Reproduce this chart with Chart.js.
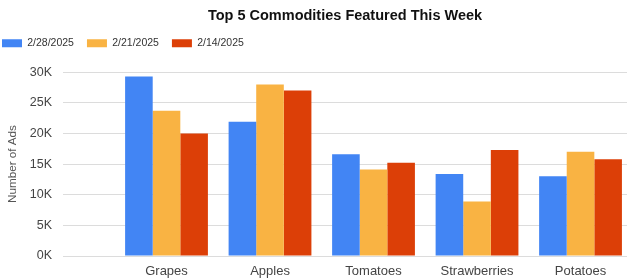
<!DOCTYPE html>
<html><head><meta charset="utf-8">
<script src="https://cdn.jsdelivr.net/npm/chart.js@4/dist/chart.umd.min.js"></script>
<style>html,body{margin:0;padding:0;background:#fff;overflow:hidden}#wrap{width:627px;height:279px;position:relative}</style>
</head><body><div id="wrap"><canvas id="c"></canvas></div>
<script>
const categories = ['Grapes', 'Apples', 'Tomatoes', 'Strawberries', 'Potatoes'];
const seriesLabels = ['2/28/2025', '2/21/2025', '2/14/2025'];
const values0228 = [29300, 21900, 16600, 13400, 13000];
const values0221 = [23700, 28000, 14100, 8900, 17000];
const values0214 = [20000, 27000, 15200, 17300, 15800];
const yTickValues = [0, 5000, 10000, 15000, 20000, 25000, 30000];
const titleText = 'Top 5 Commodities Featured This Week';
const yTitle = 'Number of Ads';

const seriesValues = [values0228, values0221, values0214];
const colors = ['#4285F4', '#F9B343', '#DC3F07'];
const LEFT_PAD = -11;

Chart.defaults.font.family = '"Liberation Sans", Arial, sans-serif';

new Chart(document.getElementById('c'), {
  type: 'bar',
  data: {
    datasets: seriesLabels.map((lab, s) => ({
      label: lab,
      data: categories.map((c, i) => ({ x: i + 1, y: seriesValues[s][i] })),
      backgroundColor: colors[s],
      borderWidth: 0,
      categoryPercentage: 0.8,
      barPercentage: 1.0
    }))
  },
  options: {
    responsive: true,
    maintainAspectRatio: false,
    animation: false,
    layout: { padding: { left: LEFT_PAD, right: 0, top: 0, bottom: -8 } },
    plugins: {
      tooltip: { enabled: false },
      title: {
        display: true, text: titleText, fullSize: false,
        color: '#111', font: { size: 14.5, weight: 'bold' },
        padding: { top: 7, bottom: 0.5 }
      },
      subtitle: {
        display: true, text: '', weight: 500,
        font: { size: 1, lineHeight: 1 },
        padding: { top: 12.75, bottom: 0 }
      },
      legend: {
        position: 'top', align: 'start',
        labels: {
          boxWidth: 20, boxHeight: 8, padding: 13,
          color: '#333', font: { size: 10.5 }
        }
      }
    },
    scales: {
      x: {
        type: 'linear', min: 0, max: 5.449, offset: false,
        afterBuildTicks: s => { s.ticks = categories.map((c, i) => ({ value: i + 1 })); },
        grid: { display: false, drawTicks: false, offset: false },
        border: { display: false },
        ticks: {
          autoSkip: false, maxRotation: 0, padding: 7.7,
          color: '#444', font: { size: 13 },
          callback: v => categories[v - 1] ?? ''
        }
      },
      y: {
        min: 0, max: 30000,
        afterBuildTicks: s => { s.ticks = yTickValues.map(v => ({ value: v })); },
        afterFit: s => { s.width = 63 - LEFT_PAD; },
        grid: { color: '#dcdcdc', drawTicks: false, tickLength: 0 },
        border: { display: false },
        ticks: {
          padding: 11, color: '#444', font: { size: 12.5 },
          callback: v => (v / 1000) + 'K'
        },
        title: {
          display: true, text: yTitle, color: '#555',
          font: { size: 11.7 }, padding: { top: 17, bottom: 0 }
        }
      }
    }
  }
});
</script></body></html>
